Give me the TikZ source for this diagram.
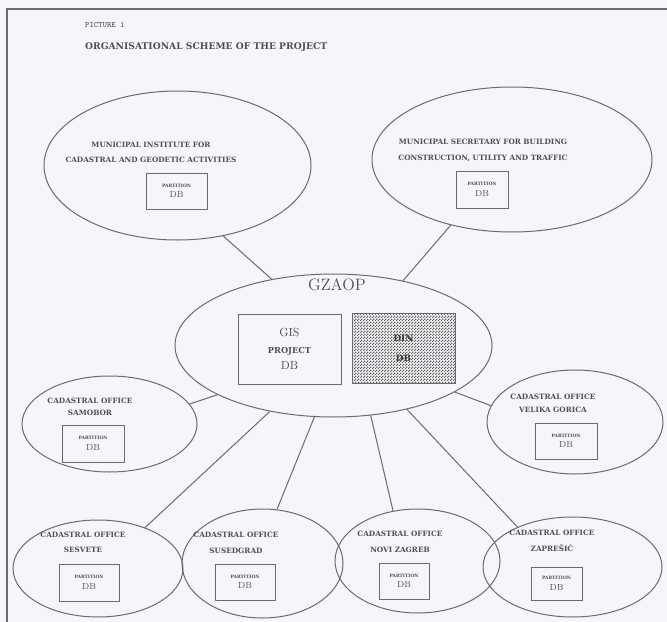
\documentclass[tikz,border=0pt]{standalone}
\usepackage{fontspec}
\usepackage{tikz}
\usetikzlibrary{shapes.geometric,patterns,positioning}
\newfontfamily\heavyserif{DejaVu Serif}
\definecolor{paper}{RGB}{246,245,250}
\definecolor{ink}{RGB}{80,78,84}
\definecolor{rule}{RGB}{108,106,112}
\newcommand{\partfont}{\fontsize{3.8}{4}\selectfont\heavyserif\bfseries}
\newcommand{\officefont}{\fontsize{6.2}{12.5}\selectfont\heavyserif\bfseries}
\pgfdeclarepatternformonly{finechecker}{\pgfpointorigin}{\pgfqpoint{2.6pt}{2.6pt}}%
  {\pgfqpoint{2.6pt}{2.6pt}}{%
  \pgfpathrectangle{\pgfpointorigin}{\pgfqpoint{1.3pt}{1.3pt}}%
  \pgfpathrectangle{\pgfqpoint{1.3pt}{1.3pt}}{\pgfqpoint{1.3pt}{1.3pt}}%
  \pgfusepath{fill}}

\begin{document}
\begin{tikzpicture}[x=0.85pt,y=-0.85pt,
  unit/.style 2 args={ellipse,draw=rule,line width=0.85pt,
               minimum width=#1*0.85pt,minimum height=#2*0.85pt,inner sep=0pt},
  office/.style={font=\officefont,text=ink,align=center,inner sep=0pt},
  partbox/.style 2 args={rectangle,draw=rule,line width=0.85pt,
               minimum width=#1*0.85pt,minimum height=#2*0.85pt,inner sep=0pt,
               align=center,text=ink,font=\fontsize{7.5}{8}\selectfont},
  link/.style={draw=rule,line width=0.85pt}]
%% ── Sheet, frame and heading ────────────────────────────────────────────
\fill[paper] (0,0) rectangle (667,622);
\useasboundingbox (0,0) rectangle (667,622);
\draw[rule,line width=2pt] (667,9) -- (7,9) -- (7,622);
\node[font=\fontsize{7}{8}\selectfont\ttfamily,text=ink,anchor=west] (picno) at (81,25) {PICTURE 1};
\node[font=\fontsize{7.8}{9}\selectfont\heavyserif\bfseries,text=ink,anchor=west] (heading) at (81,47)
  {ORGANISATIONAL SCHEME OF THE PROJECT};
%% ── Units (ellipses) ────────────────────────────────────────────────────
\node[unit={267}{149}] (inst) at (177.5,165.5) {};
\node[unit={280}{145}] (secr) at (512,159.5) {};
\node[unit={317}{143}] (gzaop) at (333.5,345.5) {};
\node[unit={175}{96}] (samobor) at (109.5,424) {};
\node[unit={176}{104}] (gorica) at (575,422) {};
\node[unit={170}{97}] (sesvete) at (98,568.5) {};
\node[unit={161}{109}] (susedgrad) at (262.5,563.5) {};
\node[unit={165}{104}] (novizg) at (417.5,561) {};
\node[unit={179}{100}] (zapresic) at (572.5,567) {};
%% ── Unit names ──────────────────────────────────────────────────────────
\node[office] (instlbl) at (151,152.5)
  {MUNICIPAL INSTITUTE FOR\\[0.5pt]CADASTRAL AND GEODETIC ACTIVITIES};
\node[office] (secrlbl) at (483,150)
  {MUNICIPAL SECRETARY FOR BUILDING\\[1pt]CONSTRUCTION, UTILITY AND TRAFFIC};
\node[font=\fontsize{14}{16}\selectfont,text=ink] (gzaoplbl) at (337,285) {GZAOP};
\node[office] (samoborlbl) at (90,407) {CADASTRAL OFFICE\\[-2pt]SAMOBOR};
\node[office] (goricalbl) at (553,403.5) {CADASTRAL OFFICE\\[-2pt]VELIKA GORICA};
\node[office] (sesvetelbl) at (83,542.5) {CADASTRAL OFFICE\\SESVETE};
\node[office] (susedgradlbl) at (236,542.5) {CADASTRAL OFFICE\\[1pt]SUSEDGRAD};
\node[office] (novizglbl) at (400,541.5) {CADASTRAL OFFICE\\[1pt]NOVI ZAGREB};
\node[office] (zapresiclbl) at (552,540.5) {CADASTRAL OFFICE\\[1pt]ZAPREŠIĆ};
%% ── Databases ───────────────────────────────────────────────────────────
\node[partbox={103}{70},font=\fontsize{10}{14}\selectfont] (gisdb) at (289.5,349)
  {GIS\\{\fontsize{7}{9}\selectfont\heavyserif\bfseries PROJECT}\\DB};
\node[partbox={103}{70},pattern=finechecker,pattern color=black!62,
      text=black!78,font=\fontsize{7.5}{15}\selectfont\heavyserif\bfseries] (dindb) at (403.5,348)
  {DIN\\[2pt]DB};
\node[partbox={61}{36}] (instdb) at (176.5,191) {{\partfont PARTITION}\\[1pt]DB};
\node[partbox={52}{37}] (secrdb) at (482,189.5) {{\partfont PARTITION}\\[1pt]DB};
\node[partbox={62}{37}] (samobordb) at (93,443.5) {{\partfont PARTITION}\\[1pt]DB};
\node[partbox={62}{36}] (goricadb) at (566,441) {{\partfont PARTITION}\\[1pt]DB};
\node[partbox={60}{37}] (sesvetedb) at (89,582.5) {{\partfont PARTITION}\\[1pt]DB};
\node[partbox={60}{36}] (susedgraddb) at (245,582) {{\partfont PARTITION}\\[1pt]DB};
\node[partbox={50}{36}] (novizgdb) at (404,581) {{\partfont PARTITION}\\[1pt]DB};
\node[partbox={51}{33}] (zapresicdb) at (556.5,583.5) {{\partfont PARTITION}\\[1pt]DB};
%% ── Links to GZAOP ──────────────────────────────────────────────────────
\draw[link] (inst.-57) -- (gzaop.133);
\draw[link] (secr.-133) -- (gzaop.43);
\draw[link] (gzaop.-157) -- (samobor.14);
\draw[link] (gzaop.-21) -- (gorica.169);
\draw[link] (gzaop.-134) -- (sesvete.41);
\draw[link] (gzaop.-105) -- (susedgrad.75);
\draw[link] (gzaop.-62) -- (novizg.116);
\draw[link] (gzaop.-41) -- (zapresic.144);
\end{tikzpicture}
\end{document}
